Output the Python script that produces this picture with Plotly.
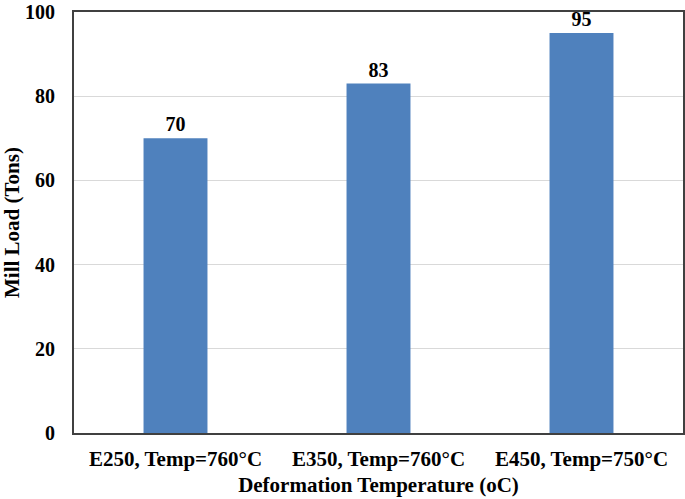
import plotly.graph_objects as go

categories = ["E250, Temp=760°C", "E350, Temp=760°C", "E450, Temp=750°C"]
mill_load = [70, 83, 95]
y_ticks = [0, 20, 40, 60, 80, 100]

font = dict(family="Liberation Serif", size=20, color="black", weight="bold")
font_x = dict(font, size=21)

fig = go.Figure()
fig.add_trace(
    go.Bar(
        x=categories,
        y=mill_load,
        width=0.315,
        marker=dict(color="#4F81BD", line=dict(width=0)),
        text=[str(v) for v in mill_load],
        textposition="outside",
        textfont=font,
        cliponaxis=False,
    )
)

fig.update_layout(
    width=685,
    height=499,
    margin=dict(l=74, r=2, t=12, b=66, autoexpand=False),
    plot_bgcolor="white",
    paper_bgcolor="white",
    font=font,
    showlegend=False,
    uniformtext=dict(minsize=20, mode="show"),
    xaxis=dict(
        title=dict(text="Deformation Temperature (oC)", standoff=7, font=font_x),
        tickfont=font_x,
        showline=True, linecolor="#404040", linewidth=2, mirror=True,
        ticks="", automargin=False, ticklabelstandoff=6,
    ),
    yaxis=dict(
        title=dict(text="Mill Load (Tons)", standoff=18, font=font_x),
        range=[0, 100],
        tickvals=y_ticks,
        tickfont=font,
        showgrid=True, gridcolor="#D9D9D9", gridwidth=1,
        showline=True, linecolor="#404040", linewidth=2, mirror=True,
        ticks="", ticklabelstandoff=13,
        zeroline=False, automargin=False,
    ),
)

# drop the default 8px body margin so the figure sits at the window corner
fig.write_html(
    "out.html",
    config={"displayModeBar": False},
    post_script="document.body.style.margin='0';",
)
